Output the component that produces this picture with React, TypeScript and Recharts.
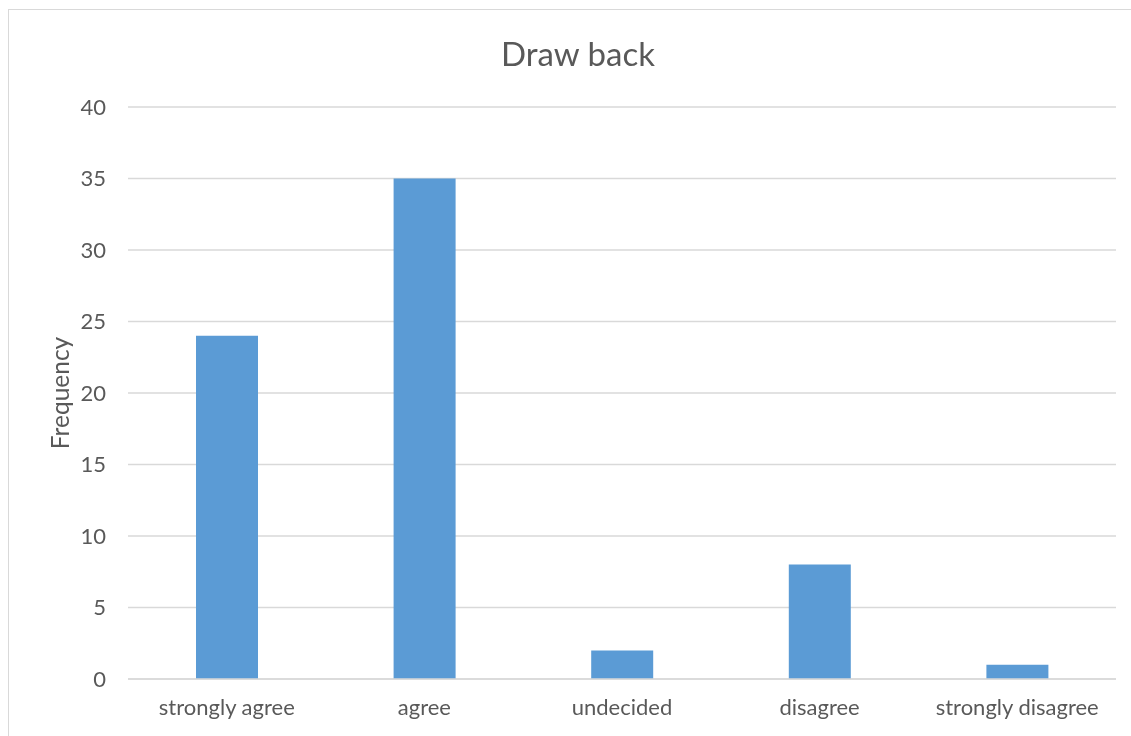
import React from 'react';
import { BarChart, Bar, XAxis, YAxis, CartesianGrid } from 'recharts';

const responses = ['strongly agree', 'agree', 'undecided', 'disagree', 'strongly disagree'];
const frequency = [24, 35, 2, 8, 1];
const yTicks = [0, 5, 10, 15, 20, 25, 30, 35, 40];

const FONT = 'Lato, "Open Sans", sans-serif';
const TEXT = '#595959';
const GRID = '#d9d9d9';

const data = responses.map((name, i) => ({ name, value: frequency[i] }));

const FrequencyLabel = (props: any) => {
  const vb = props.viewBox;
  if (!vb) return null;
  const cx = 50;
  const cy = vb.y + vb.height / 2;
  return (
    <text x={cx} y={cy} transform={`rotate(-90 ${cx} ${cy})`} textAnchor="middle" dominantBaseline="central"
      fill={TEXT} fontSize={24.5} fontFamily={FONT}>
      Frequency
    </text>
  );
};

export default function App() {
  // chart frame runs past the right and bottom edges of the window
  return (
    <div style={{ position: 'fixed', left: 8, top: 9, width: 1150, height: 760, borderLeft: `1px solid ${GRID}`, borderTop: `1px solid ${GRID}` }}>
      <div style={{ position: 'absolute', left: 0, width: 1138, top: 23, textAlign: 'center', fontFamily: FONT, fontSize: 33, color: TEXT }}>
        Draw back
      </div>
      <BarChart width={1121} height={718} data={data} margin={{ top: 97, right: 14, left: 0, bottom: 0 }}>
        <CartesianGrid vertical={false} stroke={GRID} strokeWidth={1.3} />
        <XAxis dataKey="name" height={49} axisLine={{ stroke: GRID, strokeWidth: 1.3 }} tickLine={false} tickSize={0} tickMargin={20}
          tick={{ fill: TEXT, fontSize: 22, fontFamily: FONT }} interval={0} />
        <YAxis width={119} domain={[0, 40]} ticks={yTicks} axisLine={false} tickLine={false} tickSize={0} tickMargin={22}
          tick={{ fill: TEXT, fontSize: 22, fontFamily: FONT }} label={<FrequencyLabel />} />
        <Bar dataKey="value" fill="#5b9bd5" barSize={62} isAnimationActive={false} />
      </BarChart>
    </div>
  );
}
